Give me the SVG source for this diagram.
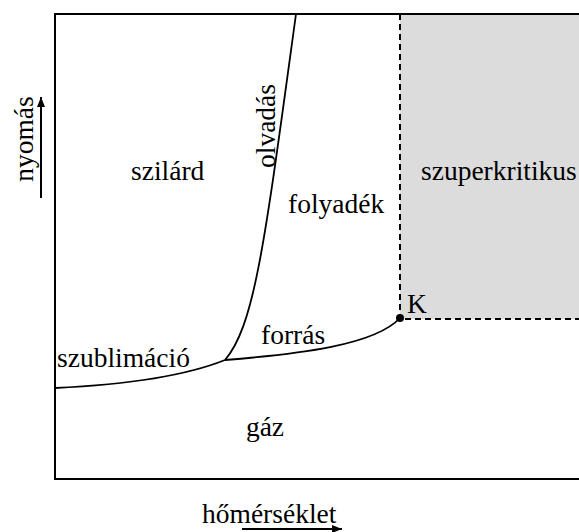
<svg xmlns="http://www.w3.org/2000/svg" width="579" height="532" viewBox="0 0 579 532" font-family="'Liberation Serif', 'DejaVu Serif', serif">
  <defs>
    <style>
      text { font-family: 'Liberation Serif', 'DejaVu Serif', serif; font-size: 27.5px; fill: #000; }
      .curve { fill: none; stroke: #000; stroke-width: 1.8; }
      .dash { fill: none; stroke: #000; stroke-width: 2; stroke-dasharray: 6 4; }
    </style>
    <marker id="arrowhead" viewBox="0 0 10 10" refX="10" refY="5" markerWidth="10" markerHeight="10" markerUnits="userSpaceOnUse" orient="auto">
      <path d="M0,1 L10,5 L0,9 Z" fill="#000"/>
    </marker>
  </defs>
  <rect width="579" height="532" fill="#fff"/>

  <!-- supercritical region -->
  <g id="supercritical">
    <rect x="400" y="14" width="190" height="305" fill="#dcdcdc"/>
    <path class="dash" d="M400,14 V319 H579"/>
  </g>

  <!-- plot frame -->
  <rect id="frame" x="55" y="14" width="540" height="465" fill="none" stroke="#000" stroke-width="2"/>

  <!-- phase boundaries -->
  <g id="connectors">
    <path id="sublimation-curve" class="curve" d="M55,388 C140,384 195,372 225,360"/>
    <path id="boiling-curve" class="curve" d="M225,360 C300,354 375,345 400,318"/>
    <path id="melting-curve" class="curve" d="M225,360 C255,325 265,240 296,14"/>
  </g>

  <!-- critical point -->
  <g id="critical-point">
    <circle cx="400" cy="318" r="4" fill="#000"/>
    <text x="407" y="313">K</text>
  </g>

  <!-- phase labels -->
  <g id="solid"><text x="131" y="180">szilárd</text></g>
  <g id="liquid"><text x="288" y="213">folyadék</text></g>
  <g id="supercritical-label"><text x="421" y="180">szuperkritikus</text></g>
  <g id="gas"><text x="265" y="436" text-anchor="middle">gáz</text></g>
  <g id="boiling-label"><text x="261" y="344">forrás</text></g>
  <g id="sublimation-label"><text x="57" y="367">szublimáció</text></g>
  <g id="melting-label"><text transform="translate(275,126) rotate(-90)" text-anchor="middle">olvadás</text></g>

  <!-- axes -->
  <g id="pressure-axis">
    <text transform="translate(33,139) rotate(-90)" text-anchor="middle">nyomás</text>
    <line x1="41" y1="198" x2="41" y2="97" stroke="#000" stroke-width="2" marker-end="url(#arrowhead)"/>
  </g>
  <g id="temperature-axis">
    <text x="202" y="523">hőmérséklet</text>
    <line x1="242" y1="529" x2="342" y2="529" stroke="#000" stroke-width="2" marker-end="url(#arrowhead)"/>
  </g>
</svg>
